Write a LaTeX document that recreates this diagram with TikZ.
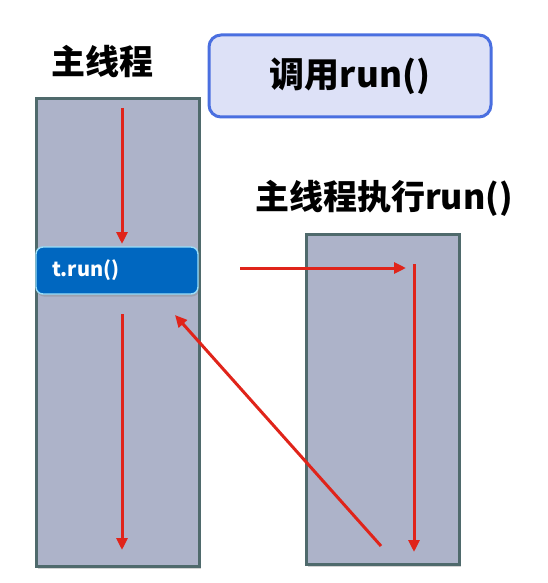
\documentclass[tikz,border=0pt]{standalone}
\usepackage{fontspec}
\newfontfamily\cjk{Noto Sans CJK SC}[BoldFont={Noto Sans CJK SC Black}]
\usetikzlibrary{shadows,arrows.meta}
\definecolor{colfill}{HTML}{ADB3C9}
\definecolor{colborder}{HTML}{4F6A6C}
\definecolor{arrowred}{HTML}{E0241A}
\definecolor{callfill}{HTML}{DDE1F7}
\definecolor{callborder}{HTML}{4A6FE0}
\definecolor{runblue}{HTML}{0067C0}
\begin{document}
\begin{tikzpicture}[x=1pt,y=-1pt,
  threadbox/.style={draw=colborder,line width=3pt,fill=colfill,drop shadow={opacity=0.35,shadow xshift=1.5pt,shadow yshift=-3pt}},
  redarrow/.style={draw=arrowred,line width=3pt,-{Triangle[length=12pt,width=11pt]}},
  title/.style={font=\cjk\bfseries\fontsize{34}{38}\selectfont,inner sep=0pt}]
\useasboundingbox (0,0) rectangle (547,583);
% columns
\path[threadbox] (36,99) rectangle (199,566);
\path[threadbox] (306,234) rectangle (459,564);
% titles
\node[title] (mainlbl) at (102,62) {主线程};
\node[title] (execlbl) at (384,198) {主线程执行run()};
% call box
\node[draw=callborder,line width=3pt,fill=callfill,rounded corners=12pt,minimum width=282pt,minimum height=82pt,inner sep=0pt,font=\cjk\bfseries\fontsize{35}{38}\selectfont] (call) at (350,76) {调用run()};
% t.run()
\node[draw=cyan!40,line width=1.4pt,fill=runblue,rounded corners=7pt,minimum width=162pt,minimum height=47pt,drop shadow={opacity=0.35,shadow xshift=1pt,shadow yshift=-2.5pt}] (trun) at (117,270.5) {};
\node[anchor=west,text=white,font=\cjk\bfseries\fontsize{20}{22}\selectfont,inner sep=0pt] (truntxt) at (52,270) {t.run()};
% arrow anchor points
\coordinate (a1s) at (122,108);
\coordinate (a1e) at (122,244);
\coordinate (a2s) at (122,314);
\coordinate (a2e) at (122,550);
\coordinate (hs) at (240,268);
\coordinate (he) at (406,268);
\coordinate (vs) at (414,264);
\coordinate (ve) at (414,552);
\coordinate (ds) at (381,546);
\coordinate (de) at (175,315);
\draw[redarrow] (a1s) -- (a1e);
\draw[redarrow] (a2s) -- (a2e);
\draw[redarrow] (hs) -- (he);
\draw[redarrow] (vs) -- (ve);
\draw[redarrow] (ds) -- (de);
\end{tikzpicture}
\end{document}
